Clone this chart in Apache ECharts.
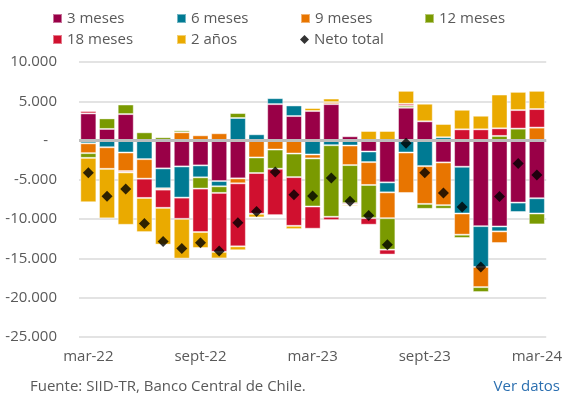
<!DOCTYPE html>
<html>
<head>
<meta charset="utf-8">
<script src="https://cdn.jsdelivr.net/npm/echarts@6/dist/echarts.min.js"></script>
<style>
  html, body { margin: 0; padding: 0; background: #fff; }
  #chart { width: 565px; height: 403px; }
</style>
</head>
<body>
<div id="chart"></div>
<script>
  // meses mar-22 .. mar-24
  const months = ['mar-22', 'abr-22', 'may-22', 'jun-22', 'jul-22', 'ago-22', 'sept-22', 'oct-22', 'nov-22', 'dic-22',
    'ene-23', 'feb-23', 'mar-23', 'abr-23', 'may-23', 'jun-23', 'jul-23', 'ago-23', 'sept-23', 'oct-23',
    'nov-23', 'dic-23', 'ene-24', 'feb-24', 'mar-24'];

  const m3 = [3460, 1480, 3370, 0, -3540, -3290, -3160, -5150, -4810, 0,
    4640, 3120, 3760, 4640, 550, -1390, -5320, 4180, 2450, -2780,
    -3330, -10890, -10930, -7890, -7340];
  const m6 = [-350, -850, -1520, -2360, -2530, -3970, -1520, -670, 2870, 800,
    760, 1350, -1770, -590, -630, -1350, -1270, -1520, -3250, 420,
    -5950, -5190, -630, -1220, -1940];
  const m9 = [-1250, -2750, -2360, -2490, -170, 1050, 670, 930, -630, -2150,
    -1140, -1650, -500, 250, -2490, -2910, -3290, -5150, -4810, -5440,
    -2700, -2570, -1480, 0, 1650];
  const m12 = [-600, 1350, 1220, 1050, 420, 250, -1430, -840, 630, -1980,
    -2450, -3000, -6120, -9110, -4850, -4220, -4000, 250, -630, -460,
    -420, -630, 590, 1520, -1390];
  const m18 = [300, 0, -170, -2450, -2320, -2700, -5530, -7500, -8020, -5190,
    -5900, -6200, -2830, -420, -170, -840, -630, 250, -130, -130,
    1430, 1430, 970, 2360, 2360];
  const y2 = [-5650, -6300, -6670, -4350, -4680, -5060, -2030, -840, -500, -460,
    130, -420, 380, 460, -170, 1220, 1220, 1650, 2240, 1690,
    2490, 1730, 4300, 2320, 2320];
  const neto = [-4100, -7100, -6160, -10550, -12830, -13750, -13000, -14050, -10460, -9030,
    -4000, -6880, -7050, -4770, -7720, -9540, -13250, -340, -4100, -6670,
    -8440, -16080, -7130, -2910, -4390];

  const textColor = '#595959';
  const font = '"Open Sans", "Noto Sans", sans-serif';

  function fmt(v){
    if (v === 0) return '{z|-}';
    let s = String(Math.abs(v)).replace(/\B(?=(\d{3})+(?!\d))/g, '.');
    return (v < 0 ? '-' : '') + s;
  }

  function barSeries(name, data, color){
    return {
      name: name,
      type: 'bar',
      stack: 'total',
      data: data,
      barCategoryGap: '14%',
      itemStyle: {
        color: color,
        borderColor: 'rgba(255,255,255,0.45)',
        borderWidth: 1
      }
    };
  }

  let chart = echarts.init(document.getElementById('chart'));
  let series = [
    barSeries('3 meses', m3, '#990047'),
    barSeries('6 meses', m6, '#007A93'),
    barSeries('9 meses', m9, '#E87500'),
    barSeries('12 meses', m12, '#7A9A01'),
    barSeries('18 meses', m18, '#D0102F'),
    barSeries('2 años', y2, '#EAAA00')
  ];
  // línea del cero sobre las barras
  series[5].markLine = {
    silent: true,
    symbol: 'none',
    label: { show: false },
    lineStyle: { color: '#bdbdbd', width: 3, type: 'solid' },
    data: [{ yAxis: 0 }]
  };
  series.push({
    name: 'Neto total',
    type: 'scatter',
    data: neto,
    symbol: 'diamond',
    symbolSize: 11,
    z: 5,
    itemStyle: { color: '#000' }
  });

  let option = {
    animation: false,
    textStyle: { fontFamily: font },
    legend: {
      left: 47,
      top: 6,
      width: 510,
      itemWidth: 9,
      itemHeight: 9,
      itemGap: 6,
      textStyle: { color: textColor, fontSize: 15, fontFamily: font, width: 103, lineHeight: 12 },
      data: [
        { name: '3 meses', icon: 'rect' },
        { name: '6 meses', icon: 'rect' },
        { name: '9 meses', icon: 'rect' },
        { name: '12 meses', icon: 'rect' },
        { name: '18 meses', icon: 'rect' },
        { name: '2 años', icon: 'rect' },
        { name: 'Neto total', icon: 'diamond' }
      ]
    },
    grid: { left: 79, right: 17, top: 62, bottom: 66 },
    xAxis: {
      type: 'category',
      data: months,
      axisLine: { show: false },
      axisTick: { show: false },
      axisLabel: {
        interval: 5,
        color: textColor,
        fontSize: 15,
        fontFamily: font,
        margin: 12
      }
    },
    yAxis: {
      type: 'value',
      min: -25000,
      max: 10000,
      interval: 5000,
      axisLine: { show: false },
      axisTick: { show: false },
      splitLine: { lineStyle: { color: '#dadada', width: 1.5 } },
      axisLabel: {
        color: textColor,
        fontSize: 15,
        fontFamily: font,
        margin: 22,
        formatter: fmt,
        rich: { z: { color: textColor, fontSize: 15, fontFamily: font, padding: [0, 9, 0, 0] } }
      }
    },
    graphic: [
      {
        type: 'text', left: 30, top: 379,
        style: { text: 'Fuente: SIID-TR, Banco Central de Chile.', fill: textColor, fontSize: 15, fontFamily: font }
      },
      {
        type: 'text', right: 5, top: 379,
        style: { text: 'Ver datos', fill: '#2b6fb0', fontSize: 15, fontFamily: font }
      }
    ],
    series: series
  };
  option && chart.setOption(option);
</script>
</body>
</html>
